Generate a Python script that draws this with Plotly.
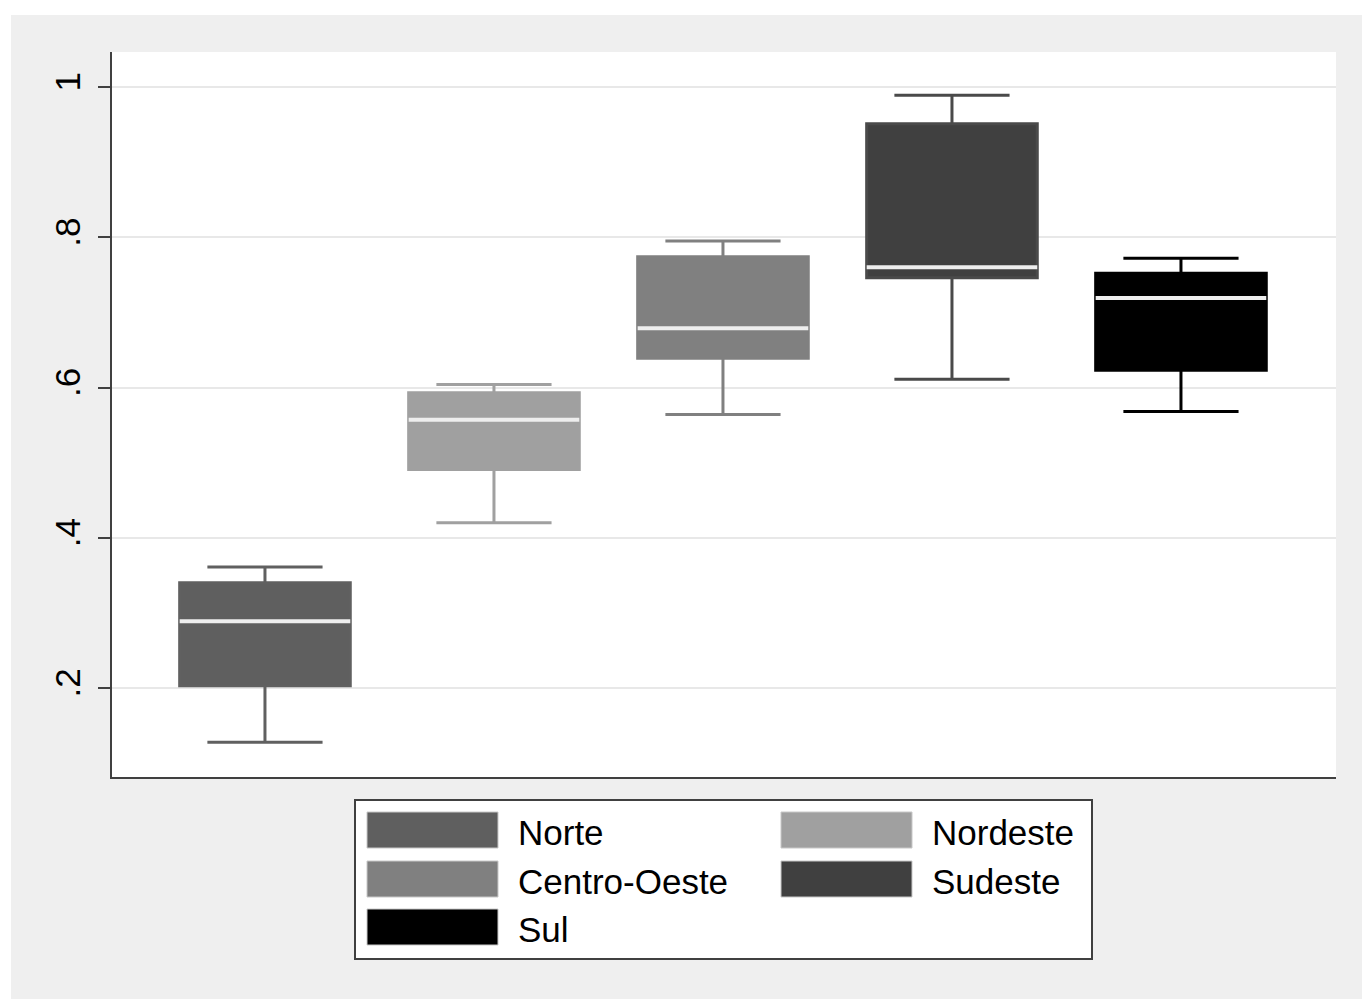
import plotly.graph_objects as go

# Box-plot summaries per region
regions = ["Norte", "Nordeste", "Centro-Oeste", "Sudeste", "Sul"]
lower_whisker = [0.128, 0.420, 0.564, 0.611, 0.568]
q1 = [0.203, 0.491, 0.639, 0.746, 0.623]
median = [0.289, 0.557, 0.679, 0.760, 0.719]
q3 = [0.340, 0.593, 0.774, 0.951, 0.752]
upper_whisker = [0.361, 0.604, 0.795, 0.989, 0.772]

colors = ["#5f5f5f", "#a0a0a0", "#808080", "#404040", "#000000"]
whisker_colors = ["#606060", "#a0a0a0", "#808080", "#4a4a4a", "#000000"]

y_ticks = [0.2, 0.4, 0.6, 0.8, 1.0]
y_tick_text = [".2", ".4", ".6", ".8", "1"]

W, H = 1362, 999
ML, MR, MT, MB = 112, 26, 52, 222
PW, PH = W - ML - MR, H - MT - MB

FONT = "Liberation Sans, Arial, sans-serif"
BOX_W = 0.745

fig = go.Figure()
for i, name in enumerate(regions):
    fig.add_trace(go.Box(
        x=[i], name=name,
        q1=[q1[i]], median=[median[i]], q3=[q3[i]],
        lowerfence=[lower_whisker[i]], upperfence=[upper_whisker[i]],
        boxpoints=False, width=BOX_W, whiskerwidth=0.675,
        fillcolor=colors[i],
        line=dict(color=whisker_colors[i], width=3),
        showlegend=False, hoverinfo="skip",
    ))
    # white median bar across the box
    fig.add_trace(go.Scatter(
        x=[i - BOX_W / 2, i + BOX_W / 2], y=[median[i], median[i]],
        mode="lines", line=dict(color="#eeeeee", width=4),
        showlegend=False, hoverinfo="skip",
    ))


def px_x(px):
    return (px - ML) / PW


def px_y(py):
    return (H - MB - py) / PH


shapes = [
    # white page margins on the left and top edges
    dict(type="rect", xref="paper", yref="paper", x0=px_x(-5), x1=px_x(11),
         y0=px_y(H + 5), y1=px_y(-5), fillcolor="white", line=dict(width=0), layer="above"),
    dict(type="rect", xref="paper", yref="paper", x0=px_x(-5), x1=px_x(W + 5),
         y0=px_y(15), y1=px_y(-5), fillcolor="white", line=dict(width=0), layer="above"),
    # legend frame
    dict(type="rect", xref="paper", yref="paper", x0=px_x(355), x1=px_x(1092),
         y0=px_y(959), y1=px_y(800), fillcolor="white",
         line=dict(color="#404040", width=2), layer="above"),
]

annotations = []
legend_slots = [
    (0, 367, 812), (1, 781, 812),
    (2, 367, 861), (3, 781, 861),
    (4, 367, 909),
]
for idx, sx, sy in legend_slots:
    shapes.append(dict(type="rect", xref="paper", yref="paper",
                       x0=px_x(sx), x1=px_x(sx + 131), y0=px_y(sy + 36), y1=px_y(sy),
                       fillcolor=colors[idx], line=dict(color="#c8c8c8", width=1),
                       layer="above"))
    annotations.append(dict(xref="paper", yref="paper", x=px_x(sx + 149), y=px_y(sy + 20),
                            text=regions[idx], showarrow=False, xanchor="left",
                            yanchor="middle", font=dict(family=FONT, size=35, color="black")))

fig.update_layout(
    width=W, height=H,
    margin=dict(l=ML, r=MR, t=MT, b=MB, pad=0),
    paper_bgcolor="#efefef", plot_bgcolor="white",
    showlegend=False,
    shapes=shapes, annotations=annotations,
    xaxis=dict(range=[-0.668, 4.677], showgrid=False, zeroline=False,
               showticklabels=False, ticks="", showline=True,
               linecolor="#404040", linewidth=2),
    yaxis=dict(range=[0.0816, 1.0466], tickvals=y_ticks, ticktext=y_tick_text,
               tickangle=-90, ticks="outside", ticklen=12, tickwidth=2,
               tickcolor="#404040", showline=True, linecolor="#404040",
               linewidth=2, gridcolor="#e8e8e8", gridwidth=2, zeroline=False,
               ticklabelstandoff=4,
               tickfont=dict(family=FONT, size=35, color="black")),
)

fig.write_html("out.html")
